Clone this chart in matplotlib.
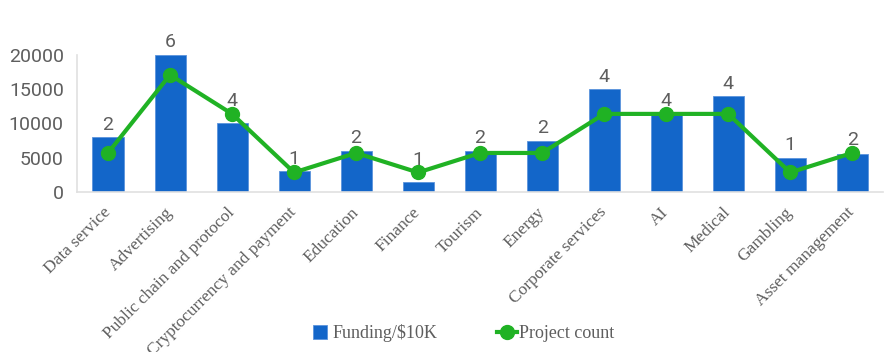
import matplotlib
matplotlib.use('Agg')
import matplotlib.pyplot as plt
from matplotlib.lines import Line2D

categories = ["Data service", "Advertising", "Public chain and protocol",
              "Cryptocurrency and payment", "Education", "Finance", "Tourism",
              "Energy", "Corporate services", "AI", "Medical", "Gambling",
              "Asset management"]
funding = [8000, 20000, 10000, 3000, 6000, 1400, 6000, 7500, 15000, 11200, 14000, 5000, 5500]
counts = [2, 6, 4, 1, 2, 1, 2, 2, 4, 4, 4, 1, 2]

blue = '#1366c9'
green = '#20b224'
gray = '#5e5e5e'

fig = plt.figure(figsize=(8.85, 3.52), dpi=100)
ax = fig.add_axes([0.087, 0.4545, 0.911, 0.3895])
x = range(len(categories))

ax.bar(x, funding, width=0.5, color=blue, edgecolor='#5b93dc', linewidth=0.6, zorder=2)
ax.set_xlim(-0.5, len(categories) - 0.5)
ax.set_ylim(0, 20000)
ax.set_yticks([0, 5000, 10000, 15000, 20000])
ax.tick_params(axis='y', length=0, labelsize=14, labelcolor=gray, pad=9.5)
for lbl in ax.get_yticklabels():
    lbl.set_family('Roboto')
ax.tick_params(axis='x', length=0, pad=13)
ax.set_xticks(list(x))
ax.set_xticklabels(categories, rotation=45, ha='right', va='center',
                   rotation_mode='anchor', family='Liberation Serif',
                   fontsize=12.5, color=gray)
for s in ['top', 'right']:
    ax.spines[s].set_visible(False)
for s in ['left', 'bottom']:
    ax.spines[s].set_color('#e0e0e0')
    ax.spines[s].set_linewidth(1.2)

ax2 = ax.twinx()
ax2.set_ylim(0, 7.02)
ax2.plot(x, counts, color=green, linewidth=3, marker='o', markersize=10, zorder=3)
ax2.axis('off')

for i, (f, c) in enumerate(zip(funding, counts)):
    top = max(f / 20000 * 7.02, c)
    ax2.annotate(str(c), (i, top), xytext=(0, 2.5), textcoords='offset points',
                 ha='center', va='bottom', fontsize=14, color=gray,
                 family='Roboto', annotation_clip=False)

handles = [Line2D([], [], linestyle='none', marker='s', markersize=10,
                  markerfacecolor=blue, markeredgecolor='#5b93dc', markeredgewidth=0.6),
           Line2D([], [], color=green, linewidth=3, marker='o', markersize=10)]
fig.legend(handles, ['Funding/$10K', 'Project count'], loc='center',
           bbox_to_anchor=(0.522, 0.053), ncol=2, frameon=False,
           prop={'family': 'Liberation Serif', 'size': 13},
           labelcolor=gray, handlelength=1.15, handletextpad=0.1,
           columnspacing=3.3)

fig.savefig('out.png', dpi=100)
